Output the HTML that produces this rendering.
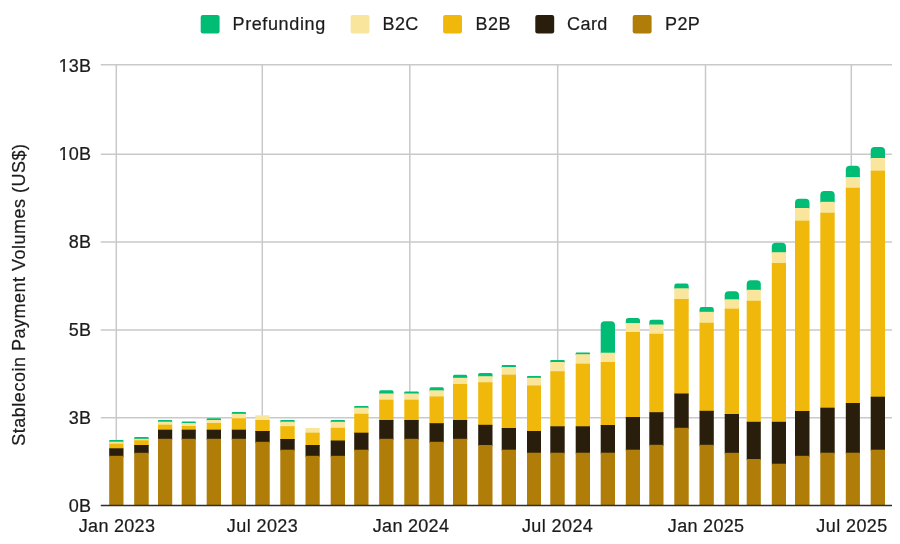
<!DOCTYPE html>
<html><head><meta charset="utf-8"><title>Stablecoin Payment Volumes</title>
<style>
html,body{margin:0;padding:0;background:#fff;}
body{width:900px;height:544px;overflow:hidden;}
svg{display:block;}
svg text{font-family:"Liberation Sans",Arial,Helvetica,sans-serif;font-size:18px;fill:#1c1c1c;stroke:#1c1c1c;stroke-width:0.22px;letter-spacing:0.42px;}
</style></head><body>
<svg width="900" height="544" viewBox="0 0 900 544">
<rect x="0" y="0" width="900" height="544" fill="#ffffff"/>
<g stroke="#c9c9c9" stroke-width="1.5" fill="none">
<line x1="100.8" y1="64.7" x2="892" y2="64.7"/>
<line x1="100.8" y1="154.2" x2="892" y2="154.2"/>
<line x1="100.8" y1="242.0" x2="892" y2="242.0"/>
<line x1="100.8" y1="329.9" x2="892" y2="329.9"/>
<line x1="100.8" y1="417.7" x2="892" y2="417.7"/>
<line x1="116.3" y1="64.7" x2="116.3" y2="505.5"/>
<line x1="262.3" y1="64.7" x2="262.3" y2="505.5"/>
<line x1="409.8" y1="64.7" x2="409.8" y2="505.5"/>
<line x1="557.7" y1="64.7" x2="557.7" y2="505.5"/>
<line x1="705.5" y1="64.7" x2="705.5" y2="505.5"/>
<line x1="851.3" y1="64.7" x2="851.3" y2="505.5"/>
</g>
<g shape-rendering="geometricPrecision">
<path d="M109.2 442.7V440.90A0.80 0.80 0 0 1 110.00 440.1H122.70A0.80 0.80 0 0 1 123.5 440.90V442.7Z" fill="#00BC75"/>
<rect x="109.2" y="441.7" width="14.3" height="3.0" fill="#F9E59C"/>
<rect x="109.2" y="443.7" width="14.3" height="5.6" fill="#EFB80B"/>
<rect x="109.2" y="448.3" width="14.3" height="8.5" fill="#291E0B"/>
<rect x="109.2" y="455.8" width="14.3" height="49.7" fill="#AF7D08"/>
<path d="M134.2 439.8V437.95A0.85 0.85 0 0 1 135.05 437.1H147.85A0.85 0.85 0 0 1 148.7 437.95V439.8Z" fill="#00BC75"/>
<rect x="134.2" y="438.8" width="14.5" height="2.5" fill="#F9E59C"/>
<rect x="134.2" y="440.3" width="14.5" height="5.7" fill="#EFB80B"/>
<rect x="134.2" y="445.0" width="14.5" height="8.8" fill="#291E0B"/>
<rect x="134.2" y="452.8" width="14.5" height="52.7" fill="#AF7D08"/>
<path d="M158.0 422.7V420.85A0.85 0.85 0 0 1 158.85 420.0H171.35A0.85 0.85 0 0 1 172.2 420.85V422.7Z" fill="#00BC75"/>
<rect x="158.0" y="421.7" width="14.2" height="4.0" fill="#F9E59C"/>
<rect x="158.0" y="424.7" width="14.2" height="6.0" fill="#EFB80B"/>
<rect x="158.0" y="429.7" width="14.2" height="10.1" fill="#291E0B"/>
<rect x="158.0" y="438.8" width="14.2" height="66.7" fill="#AF7D08"/>
<path d="M181.7 424.0V422.25A0.75 0.75 0 0 1 182.45 421.5H195.05A0.75 0.75 0 0 1 195.8 422.25V424.0Z" fill="#00BC75"/>
<rect x="181.7" y="423.0" width="14.1" height="4.0" fill="#F9E59C"/>
<rect x="181.7" y="426.0" width="14.1" height="4.7" fill="#EFB80B"/>
<rect x="181.7" y="429.7" width="14.1" height="10.1" fill="#291E0B"/>
<rect x="181.7" y="438.8" width="14.1" height="66.7" fill="#AF7D08"/>
<path d="M206.7 421.0V419.15A0.85 0.85 0 0 1 207.55 418.3H220.15A0.85 0.85 0 0 1 221.0 419.15V421.0Z" fill="#00BC75"/>
<rect x="206.7" y="420.0" width="14.3" height="4.0" fill="#F9E59C"/>
<rect x="206.7" y="423.0" width="14.3" height="7.7" fill="#EFB80B"/>
<rect x="206.7" y="429.7" width="14.3" height="10.1" fill="#291E0B"/>
<rect x="206.7" y="438.8" width="14.3" height="66.7" fill="#AF7D08"/>
<path d="M231.8 414.8V412.90A0.90 0.90 0 0 1 232.70 412.0H245.10A0.90 0.90 0 0 1 246.0 412.90V414.8Z" fill="#00BC75"/>
<rect x="231.8" y="413.8" width="14.2" height="5.5" fill="#F9E59C"/>
<rect x="231.8" y="418.3" width="14.2" height="12.4" fill="#EFB80B"/>
<rect x="231.8" y="429.7" width="14.2" height="10.1" fill="#291E0B"/>
<rect x="231.8" y="438.8" width="14.2" height="66.7" fill="#AF7D08"/>
<rect x="255.3" y="415.3" width="14.4" height="5.7" fill="#F9E59C"/>
<rect x="255.3" y="420.0" width="14.4" height="12.0" fill="#EFB80B"/>
<rect x="255.3" y="431.0" width="14.4" height="11.8" fill="#291E0B"/>
<rect x="255.3" y="441.8" width="14.4" height="63.7" fill="#AF7D08"/>
<path d="M280.3 422.7V420.85A0.85 0.85 0 0 1 281.15 420.0H293.85A0.85 0.85 0 0 1 294.7 420.85V422.7Z" fill="#00BC75"/>
<rect x="280.3" y="421.7" width="14.4" height="5.5" fill="#F9E59C"/>
<rect x="280.3" y="426.2" width="14.4" height="13.8" fill="#EFB80B"/>
<rect x="280.3" y="439.0" width="14.4" height="11.7" fill="#291E0B"/>
<rect x="280.3" y="449.7" width="14.4" height="55.8" fill="#AF7D08"/>
<rect x="305.5" y="428.0" width="14.2" height="5.7" fill="#F9E59C"/>
<rect x="305.5" y="432.7" width="14.2" height="13.3" fill="#EFB80B"/>
<rect x="305.5" y="445.0" width="14.2" height="11.8" fill="#291E0B"/>
<rect x="305.5" y="455.8" width="14.2" height="49.7" fill="#AF7D08"/>
<path d="M330.7 422.8V420.90A0.90 0.90 0 0 1 331.60 420.0H344.10A0.90 0.90 0 0 1 345.0 420.90V422.8Z" fill="#00BC75"/>
<rect x="330.7" y="421.8" width="14.3" height="7.0" fill="#F9E59C"/>
<rect x="330.7" y="427.8" width="14.3" height="13.7" fill="#EFB80B"/>
<rect x="330.7" y="440.5" width="14.3" height="16.3" fill="#291E0B"/>
<rect x="330.7" y="455.8" width="14.3" height="49.7" fill="#AF7D08"/>
<path d="M354.2 408.7V406.85A0.85 0.85 0 0 1 355.05 406.0H367.65A0.85 0.85 0 0 1 368.5 406.85V408.7Z" fill="#00BC75"/>
<rect x="354.2" y="407.7" width="14.3" height="7.1" fill="#F9E59C"/>
<rect x="354.2" y="413.8" width="14.3" height="19.9" fill="#EFB80B"/>
<rect x="354.2" y="432.7" width="14.3" height="18.0" fill="#291E0B"/>
<rect x="354.2" y="449.7" width="14.3" height="55.8" fill="#AF7D08"/>
<path d="M379.2 394.5V391.85A1.65 1.65 0 0 1 380.85 390.2H391.85A1.65 1.65 0 0 1 393.5 391.85V394.5Z" fill="#00BC75"/>
<rect x="379.2" y="393.5" width="14.3" height="7.2" fill="#F9E59C"/>
<rect x="379.2" y="399.7" width="14.3" height="21.3" fill="#EFB80B"/>
<rect x="379.2" y="420.0" width="14.3" height="19.8" fill="#291E0B"/>
<rect x="379.2" y="438.8" width="14.3" height="66.7" fill="#AF7D08"/>
<path d="M404.3 394.5V392.55A0.95 0.95 0 0 1 405.25 391.6H417.75A0.95 0.95 0 0 1 418.7 392.55V394.5Z" fill="#00BC75"/>
<rect x="404.3" y="393.5" width="14.4" height="7.2" fill="#F9E59C"/>
<rect x="404.3" y="399.7" width="14.4" height="21.3" fill="#EFB80B"/>
<rect x="404.3" y="420.0" width="14.4" height="19.8" fill="#291E0B"/>
<rect x="404.3" y="438.8" width="14.4" height="66.7" fill="#AF7D08"/>
<path d="M429.5 391.3V388.75A1.55 1.55 0 0 1 431.05 387.2H442.25A1.55 1.55 0 0 1 443.8 388.75V391.3Z" fill="#00BC75"/>
<rect x="429.5" y="390.3" width="14.3" height="7.2" fill="#F9E59C"/>
<rect x="429.5" y="396.5" width="14.3" height="27.7" fill="#EFB80B"/>
<rect x="429.5" y="423.2" width="14.3" height="19.6" fill="#291E0B"/>
<rect x="429.5" y="441.8" width="14.3" height="63.7" fill="#AF7D08"/>
<path d="M453.0 378.8V376.25A1.55 1.55 0 0 1 454.55 374.7H465.65A1.55 1.55 0 0 1 467.2 376.25V378.8Z" fill="#00BC75"/>
<rect x="453.0" y="377.8" width="14.2" height="7.2" fill="#F9E59C"/>
<rect x="453.0" y="384.0" width="14.2" height="37.0" fill="#EFB80B"/>
<rect x="453.0" y="420.0" width="14.2" height="19.8" fill="#291E0B"/>
<rect x="453.0" y="438.8" width="14.2" height="66.7" fill="#AF7D08"/>
<path d="M478.2 377.2V374.60A1.60 1.60 0 0 1 479.80 373.0H490.90A1.60 1.60 0 0 1 492.5 374.60V377.2Z" fill="#00BC75"/>
<rect x="478.2" y="376.2" width="14.3" height="7.1" fill="#F9E59C"/>
<rect x="478.2" y="382.3" width="14.3" height="43.5" fill="#EFB80B"/>
<rect x="478.2" y="424.8" width="14.3" height="21.2" fill="#291E0B"/>
<rect x="478.2" y="445.0" width="14.3" height="60.5" fill="#AF7D08"/>
<path d="M501.7 368.0V366.00A1.00 1.00 0 0 1 502.70 365.0H515.00A1.00 1.00 0 0 1 516.0 366.00V368.0Z" fill="#00BC75"/>
<rect x="501.7" y="367.0" width="14.3" height="8.7" fill="#F9E59C"/>
<rect x="501.7" y="374.7" width="14.3" height="54.3" fill="#EFB80B"/>
<rect x="501.7" y="428.0" width="14.3" height="22.7" fill="#291E0B"/>
<rect x="501.7" y="449.7" width="14.3" height="55.8" fill="#AF7D08"/>
<path d="M527.0 378.8V376.90A0.90 0.90 0 0 1 527.90 376.0H540.10A0.90 0.90 0 0 1 541.0 376.90V378.8Z" fill="#00BC75"/>
<rect x="527.0" y="377.8" width="14.0" height="8.7" fill="#F9E59C"/>
<rect x="527.0" y="385.5" width="14.0" height="46.5" fill="#EFB80B"/>
<rect x="527.0" y="431.0" width="14.0" height="22.7" fill="#291E0B"/>
<rect x="527.0" y="452.7" width="14.0" height="52.8" fill="#AF7D08"/>
<path d="M550.3 363.0V361.05A0.95 0.95 0 0 1 551.25 360.1H563.75A0.95 0.95 0 0 1 564.7 361.05V363.0Z" fill="#00BC75"/>
<rect x="550.3" y="362.0" width="14.4" height="10.3" fill="#F9E59C"/>
<rect x="550.3" y="371.3" width="14.4" height="56.0" fill="#EFB80B"/>
<rect x="550.3" y="426.3" width="14.4" height="27.4" fill="#291E0B"/>
<rect x="550.3" y="452.7" width="14.4" height="52.8" fill="#AF7D08"/>
<path d="M575.7 355.2V353.35A0.85 0.85 0 0 1 576.55 352.5H589.15A0.85 0.85 0 0 1 590.0 353.35V355.2Z" fill="#00BC75"/>
<rect x="575.7" y="354.2" width="14.3" height="10.5" fill="#F9E59C"/>
<rect x="575.7" y="363.7" width="14.3" height="63.6" fill="#EFB80B"/>
<rect x="575.7" y="426.3" width="14.3" height="27.4" fill="#291E0B"/>
<rect x="575.7" y="452.7" width="14.3" height="52.8" fill="#AF7D08"/>
<path d="M600.7 353.7V325.20A4.00 4.00 0 0 1 604.70 321.2H611.00A4.00 4.00 0 0 1 615.0 325.20V353.7Z" fill="#00BC75"/>
<rect x="600.7" y="352.7" width="14.3" height="10.3" fill="#F9E59C"/>
<rect x="600.7" y="362.0" width="14.3" height="64.0" fill="#EFB80B"/>
<rect x="600.7" y="425.0" width="14.3" height="28.7" fill="#291E0B"/>
<rect x="600.7" y="452.7" width="14.3" height="52.8" fill="#AF7D08"/>
<path d="M625.8 324.0V320.50A2.50 2.50 0 0 1 628.30 318.0H637.50A2.50 2.50 0 0 1 640.0 320.50V324.0Z" fill="#00BC75"/>
<rect x="625.8" y="323.0" width="14.2" height="10.0" fill="#F9E59C"/>
<rect x="625.8" y="332.0" width="14.2" height="86.0" fill="#EFB80B"/>
<rect x="625.8" y="417.0" width="14.2" height="33.7" fill="#291E0B"/>
<rect x="625.8" y="449.7" width="14.2" height="55.8" fill="#AF7D08"/>
<path d="M649.3 325.5V322.10A2.40 2.40 0 0 1 651.70 319.7H661.10A2.40 2.40 0 0 1 663.5 322.10V325.5Z" fill="#00BC75"/>
<rect x="649.3" y="324.5" width="14.2" height="10.3" fill="#F9E59C"/>
<rect x="649.3" y="333.8" width="14.2" height="79.4" fill="#EFB80B"/>
<rect x="649.3" y="412.2" width="14.2" height="33.6" fill="#291E0B"/>
<rect x="649.3" y="444.8" width="14.2" height="60.7" fill="#AF7D08"/>
<path d="M674.3 289.3V285.90A2.40 2.40 0 0 1 676.70 283.5H686.30A2.40 2.40 0 0 1 688.7 285.90V289.3Z" fill="#00BC75"/>
<rect x="674.3" y="288.3" width="14.4" height="11.7" fill="#F9E59C"/>
<rect x="674.3" y="299.0" width="14.4" height="95.5" fill="#EFB80B"/>
<rect x="674.3" y="393.5" width="14.4" height="35.3" fill="#291E0B"/>
<rect x="674.3" y="427.8" width="14.4" height="77.7" fill="#AF7D08"/>
<path d="M699.5 312.8V309.40A2.40 2.40 0 0 1 701.90 307.0H711.40A2.40 2.40 0 0 1 713.8 309.40V312.8Z" fill="#00BC75"/>
<rect x="699.5" y="311.8" width="14.3" height="12.0" fill="#F9E59C"/>
<rect x="699.5" y="322.8" width="14.3" height="89.0" fill="#EFB80B"/>
<rect x="699.5" y="410.8" width="14.3" height="35.0" fill="#291E0B"/>
<rect x="699.5" y="444.8" width="14.3" height="60.7" fill="#AF7D08"/>
<path d="M724.7 300.3V295.30A4.00 4.00 0 0 1 728.70 291.3H735.00A4.00 4.00 0 0 1 739.0 295.30V300.3Z" fill="#00BC75"/>
<rect x="724.7" y="299.3" width="14.3" height="10.4" fill="#F9E59C"/>
<rect x="724.7" y="308.7" width="14.3" height="106.3" fill="#EFB80B"/>
<rect x="724.7" y="414.0" width="14.3" height="39.8" fill="#291E0B"/>
<rect x="724.7" y="452.8" width="14.3" height="52.7" fill="#AF7D08"/>
<path d="M746.7 290.8V284.30A4.00 4.00 0 0 1 750.70 280.3H756.80A4.00 4.00 0 0 1 760.8 284.30V290.8Z" fill="#00BC75"/>
<rect x="746.7" y="289.8" width="14.1" height="12.0" fill="#F9E59C"/>
<rect x="746.7" y="300.8" width="14.1" height="122.0" fill="#EFB80B"/>
<rect x="746.7" y="421.8" width="14.1" height="38.2" fill="#291E0B"/>
<rect x="746.7" y="459.0" width="14.1" height="46.5" fill="#AF7D08"/>
<path d="M771.8 253.2V246.80A4.00 4.00 0 0 1 775.80 242.8H782.00A4.00 4.00 0 0 1 786.0 246.80V253.2Z" fill="#00BC75"/>
<rect x="771.8" y="252.2" width="14.2" height="11.8" fill="#F9E59C"/>
<rect x="771.8" y="263.0" width="14.2" height="159.8" fill="#EFB80B"/>
<rect x="771.8" y="421.8" width="14.2" height="42.9" fill="#291E0B"/>
<rect x="771.8" y="463.7" width="14.2" height="41.8" fill="#AF7D08"/>
<path d="M795.0 209.0V202.70A4.00 4.00 0 0 1 799.00 198.7H805.50A4.00 4.00 0 0 1 809.5 202.70V209.0Z" fill="#00BC75"/>
<rect x="795.0" y="208.0" width="14.5" height="13.7" fill="#F9E59C"/>
<rect x="795.0" y="220.7" width="14.5" height="191.3" fill="#EFB80B"/>
<rect x="795.0" y="411.0" width="14.5" height="45.8" fill="#291E0B"/>
<rect x="795.0" y="455.8" width="14.5" height="49.7" fill="#AF7D08"/>
<path d="M820.3 202.8V195.00A4.00 4.00 0 0 1 824.30 191.0H830.70A4.00 4.00 0 0 1 834.7 195.00V202.8Z" fill="#00BC75"/>
<rect x="820.3" y="201.8" width="14.4" height="12.0" fill="#F9E59C"/>
<rect x="820.3" y="212.8" width="14.4" height="195.9" fill="#EFB80B"/>
<rect x="820.3" y="407.7" width="14.4" height="46.0" fill="#291E0B"/>
<rect x="820.3" y="452.7" width="14.4" height="52.8" fill="#AF7D08"/>
<path d="M845.8 178.0V169.80A4.00 4.00 0 0 1 849.80 165.8H855.90A4.00 4.00 0 0 1 859.9 169.80V178.0Z" fill="#00BC75"/>
<rect x="845.8" y="177.0" width="14.1" height="11.8" fill="#F9E59C"/>
<rect x="845.8" y="187.8" width="14.1" height="216.2" fill="#EFB80B"/>
<rect x="845.8" y="403.0" width="14.1" height="50.7" fill="#291E0B"/>
<rect x="845.8" y="452.7" width="14.1" height="52.8" fill="#AF7D08"/>
<path d="M870.7 159.0V151.00A4.00 4.00 0 0 1 874.70 147.0H881.00A4.00 4.00 0 0 1 885.0 151.00V159.0Z" fill="#00BC75"/>
<rect x="870.7" y="158.0" width="14.3" height="13.7" fill="#F9E59C"/>
<rect x="870.7" y="170.7" width="14.3" height="227.0" fill="#EFB80B"/>
<rect x="870.7" y="396.7" width="14.3" height="54.0" fill="#291E0B"/>
<rect x="870.7" y="449.7" width="14.3" height="55.8" fill="#AF7D08"/>
</g>
<line x1="100.8" y1="505.6" x2="892" y2="505.6" stroke="#2e2e2e" stroke-width="1.5"/>
<defs>
<clipPath id="one0" clipPathUnits="userSpaceOnUse"><rect x="56" y="53.80" width="14" height="16.20"/><rect x="62.90" y="68.80" width="2.17" height="3"/></clipPath>
<clipPath id="one1" clipPathUnits="userSpaceOnUse"><rect x="56" y="142.30" width="14" height="15.70"/><rect x="62.90" y="157.30" width="2.17" height="3"/></clipPath>
</defs>
<text x="58.70" y="71.8" clip-path="url(#one0)">1</text>
<text x="91.5" y="71.8" text-anchor="end">3B</text>
<text x="58.70" y="160.3" clip-path="url(#one1)">1</text>
<text x="91.5" y="160.3" text-anchor="end">0B</text>
<text x="91.5" y="247.7" text-anchor="end">8B</text>
<text x="91.5" y="335.5" text-anchor="end">5B</text>
<text x="91.5" y="423.7" text-anchor="end">3B</text>
<text x="91.5" y="511.9" text-anchor="end">0B</text>
<text x="117.0" y="532.1" text-anchor="middle" style="letter-spacing:0.30px">Jan 2023</text>
<text x="262.5" y="532.1" text-anchor="middle" style="letter-spacing:0.42px">Jul 2023</text>
<text x="411.0" y="532.1" text-anchor="middle" style="letter-spacing:0.30px">Jan 2024</text>
<text x="557.6" y="532.1" text-anchor="middle" style="letter-spacing:0.42px">Jul 2024</text>
<text x="706.1" y="532.1" text-anchor="middle" style="letter-spacing:0.30px">Jan 2025</text>
<text x="852.0" y="532.1" text-anchor="middle" style="letter-spacing:0.42px">Jul 2025</text>
<text transform="translate(24.8,294.6) rotate(-90)" text-anchor="middle" style="letter-spacing:0.5px">Stablecoin Payment Volumes (US$)</text>
<rect x="200.7" y="14.9" width="18.9" height="18.6" rx="2.2" ry="2.2" fill="#00BC75"/>
<text x="232.5" y="29.9" style="letter-spacing:0.62px">Prefunding</text>
<rect x="350.6" y="14.9" width="18.9" height="18.6" rx="2.2" ry="2.2" fill="#F9E59C"/>
<text x="382.5" y="29.9">B2C</text>
<rect x="443.1" y="14.9" width="18.9" height="18.6" rx="2.2" ry="2.2" fill="#EFB80B"/>
<text x="475.6" y="29.9">B2B</text>
<rect x="535.3" y="14.9" width="18.9" height="18.6" rx="2.2" ry="2.2" fill="#291E0B"/>
<text x="567.1" y="29.9">Card</text>
<rect x="632.7" y="14.9" width="18.9" height="18.6" rx="2.2" ry="2.2" fill="#AF7D08"/>
<text x="665.0" y="29.9">P2P</text>
</svg>
</body></html>
